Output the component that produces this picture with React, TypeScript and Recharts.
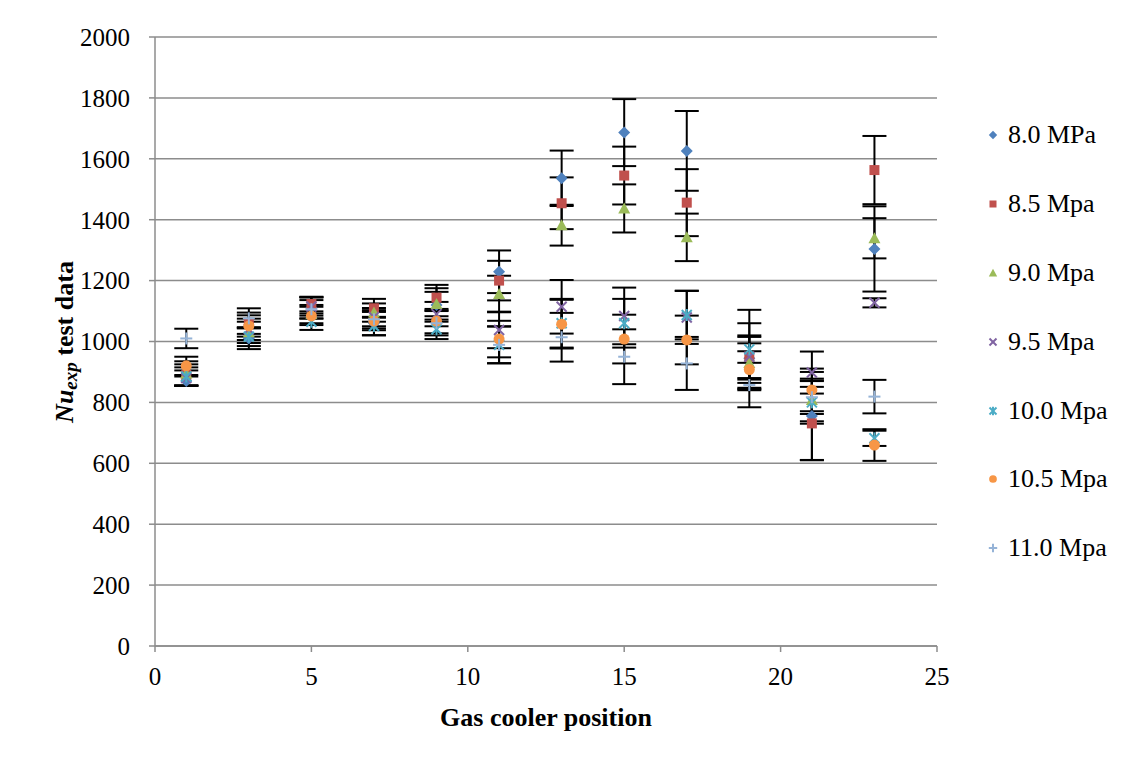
import React from "react";
import {
  ScatterChart,
  Scatter,
  XAxis,
  YAxis,
  CartesianGrid,
  ErrorBar,
  Legend,
} from "recharts";

// gas cooler positions
const positions = [1, 3, 5, 7, 9, 11, 13, 15, 17, 19, 21, 23];

const seriesNames = ["8.0 MPa", "8.5 Mpa", "9.0 Mpa", "9.5 Mpa", "10.0 Mpa", "10.5 Mpa", "11.0 Mpa"];
const seriesColors = ["#4F81BD", "#C0504D", "#9BBB59", "#8064A2", "#4BACC6", "#F79646", "#95B3D7"];

// Nu_exp values per pressure
const nu80 = [870, 1010, 1110, 1060, 1120, 1229, 1536, 1686, 1626, 945, 755, 1304];
const nu85 = [890, 1060, 1123, 1109, 1144, 1200, 1454, 1545, 1456, 950, 731, 1563];
const nu90 = [895, 1030, 1090, 1095, 1123, 1156, 1382, 1437, 1342, 929, 808, 1339];
const nu95 = [880, 1040, 1115, 1080, 1090, 1038, 1114, 1084, 1079, 950, 898, 1127];
const nu100 = [885, 1016, 1065, 1051, 1040, 989, 1060, 1060, 1087, 974, 800, 682];
const nu105 = [920, 1051, 1084, 1067, 1067, 1008, 1057, 1008, 1005, 908, 841, 660];
const nu110 = [1010, 1076, 1106, 1073, 1060, 989, 1014, 950, 928, 857, 817, 819];

// error bar half-lengths
const err80 = [15, 35, 35, 40, 55, 70, 91, 110, 131, 70, 145, 140];
const err85 = [35, 35, 24, 31, 42, 65, 85, 95, 110, 110, 120, 112];
const err90 = [40, 35, 30, 30, 40, 60, 67, 79, 78, 65, 70, 66];
const err95 = [25, 35, 30, 30, 40, 60, 88, 93, 87, 70, 69, 15];
const err100 = [30, 31, 27, 30, 32, 60, 80, 80, 80, 130, 70, 25];
const err105 = [30, 35, 30, 30, 40, 60, 80, 80, 80, 60, 70, 52];
const err110 = [32, 33, 30, 30, 40, 61, 80, 90, 87, 73, 55, 55];

const allValues = [nu80, nu85, nu90, nu95, nu100, nu105, nu110];
const allErrors = [err80, err85, err90, err95, err100, err105, err110];

const xTicks = [0, 5, 10, 15, 20, 25];
const yTicks = [0, 200, 400, 600, 800, 1000, 1200, 1400, 1600, 1800, 2000];

const FONT = "'Liberation Serif', 'Times New Roman', serif";
const GRAY = "#8c8c8c";

const seriesData = allValues.map((vals, s) =>
  positions.map((x, i) => ({ x, y: vals[i], err: allErrors[s][i] }))
);

type MarkerProps = { cx?: number; cy?: number; color: string; k: number; scale?: number };

const Marker = ({ cx = 0, cy = 0, color, k, scale = 1 }: MarkerProps) => {
  const s = scale;
  switch (k) {
    case 0:
      return (
        <polygon
          points={`${cx},${cy - 6 * s} ${cx + 6 * s},${cy} ${cx},${cy + 6 * s} ${cx - 6 * s},${cy}`}
          fill={color}
        />
      );
    case 1:
      return <rect x={cx - 5 * s} y={cy - 5 * s} width={10 * s} height={10 * s} fill={color} />;
    case 2:
      return (
        <polygon
          points={`${cx},${cy - 6 * s} ${cx + 6 * s},${cy + 5 * s} ${cx - 6 * s},${cy + 5 * s}`}
          fill={color}
        />
      );
    case 3:
      return (
        <g stroke={color} strokeWidth={2}>
          <line x1={cx - 5 * s} y1={cy - 5 * s} x2={cx + 5 * s} y2={cy + 5 * s} />
          <line x1={cx - 5 * s} y1={cy + 5 * s} x2={cx + 5 * s} y2={cy - 5 * s} />
        </g>
      );
    case 4:
      return (
        <g stroke={color} strokeWidth={2}>
          <line x1={cx - 5 * s} y1={cy - 5 * s} x2={cx + 5 * s} y2={cy + 5 * s} />
          <line x1={cx - 5 * s} y1={cy + 5 * s} x2={cx + 5 * s} y2={cy - 5 * s} />
          <line x1={cx} y1={cy - 6 * s} x2={cx} y2={cy + 6 * s} />
        </g>
      );
    case 5:
      return <circle cx={cx} cy={cy} r={5.5 * s} fill={color} />;
    default:
      return (
        <g stroke={color} strokeWidth={2}>
          <line x1={cx - 6 * s} y1={cy} x2={cx + 6 * s} y2={cy} />
          <line x1={cx} y1={cy - 6 * s} x2={cx} y2={cy + 6 * s} />
        </g>
      );
  }
};

const LegendBox = () => (
  <div style={{ fontFamily: FONT, fontSize: 26, color: "#000" }}>
    {seriesNames.map((name, i) => (
      <div key={name} style={{ height: 68.8, display: "flex", alignItems: "center" }}>
        <svg width={16} height={16} style={{ marginRight: 6 }}>
          <Marker cx={7} cy={8} color={seriesColors[i]} k={i} scale={0.7} />
        </svg>
        <span>{name}</span>
      </div>
    ))}
  </div>
);

const YTitle = () => (
  <text
    transform="rotate(-90, 56, 334)"
    x={56}
    y={334}
    textAnchor="middle"
    dominantBaseline="central"
    fontFamily={FONT}
    fontSize={26}
    fontWeight="bold"
    fill="#000"
  >
    <tspan fontStyle="italic">Nu</tspan>
    <tspan fontStyle="italic" fontSize={19} dy={6}>exp</tspan>
    <tspan dy={-6}> test data</tspan>
  </text>
);

const XTitle = () => (
  <text
    x={538}
    y={709}
    textAnchor="middle"
    dominantBaseline="central"
    fontFamily={FONT}
    fontSize={26}
    fontWeight="bold"
    fill="#000"
  >
    Gas cooler position
  </text>
);

export default function App() {
  return (
    <div
      style={{
        position: "relative",
        width: 1124,
        height: 753,
        marginLeft: -1,
        marginTop: -1,
        borderLeft: `1px solid ${GRAY}`,
        borderTop: `1px solid ${GRAY}`,
        background: "#fff",
      }}
    >
      <ScatterChart width={1124} height={753} margin={{ top: 29, right: 49, bottom: 85, left: 87 }}>
        <CartesianGrid vertical={false} stroke={GRAY} strokeWidth={1.5} />
        <XAxis
          type="number"
          dataKey="x"
          domain={[0, 25]}
          ticks={xTicks}
          height={30}
          stroke={GRAY}
          strokeWidth={1.5}
          tickSize={6}
          tickMargin={15}
          tick={{ fill: "#000", fontSize: 25, fontFamily: FONT }}
          label={{ content: () => <XTitle /> }}
        />
        <YAxis
          type="number"
          dataKey="y"
          domain={[0, 2000]}
          ticks={yTicks}
          width={60}
          stroke={GRAY}
          strokeWidth={1.5}
          tickSize={6}
          tickMargin={19}
          tick={{ fill: "#000", fontSize: 25, fontFamily: FONT }}
          label={{ content: () => <YTitle /> }}
        />
        <Legend
          layout="vertical"
          align="right"
          verticalAlign="top"
          wrapperStyle={{ left: 978, top: 93, width: 146 }}
          content={() => <LegendBox />}
        />
        {seriesData.map((data, i) => (
          <Scatter
            key={seriesNames[i]}
            name={seriesNames[i]}
            data={data}
            fill={seriesColors[i]}
            isAnimationActive={false}
            shape={(p: any) => <Marker cx={p.cx} cy={p.cy} color={seriesColors[i]} k={i} />}
          >
            <ErrorBar
              dataKey="err"
              direction="y"
              width={12}
              stroke="#000"
              strokeWidth={2}
              isAnimationActive={false}
            />
          </Scatter>
        ))}
      </ScatterChart>
    </div>
  );
}
